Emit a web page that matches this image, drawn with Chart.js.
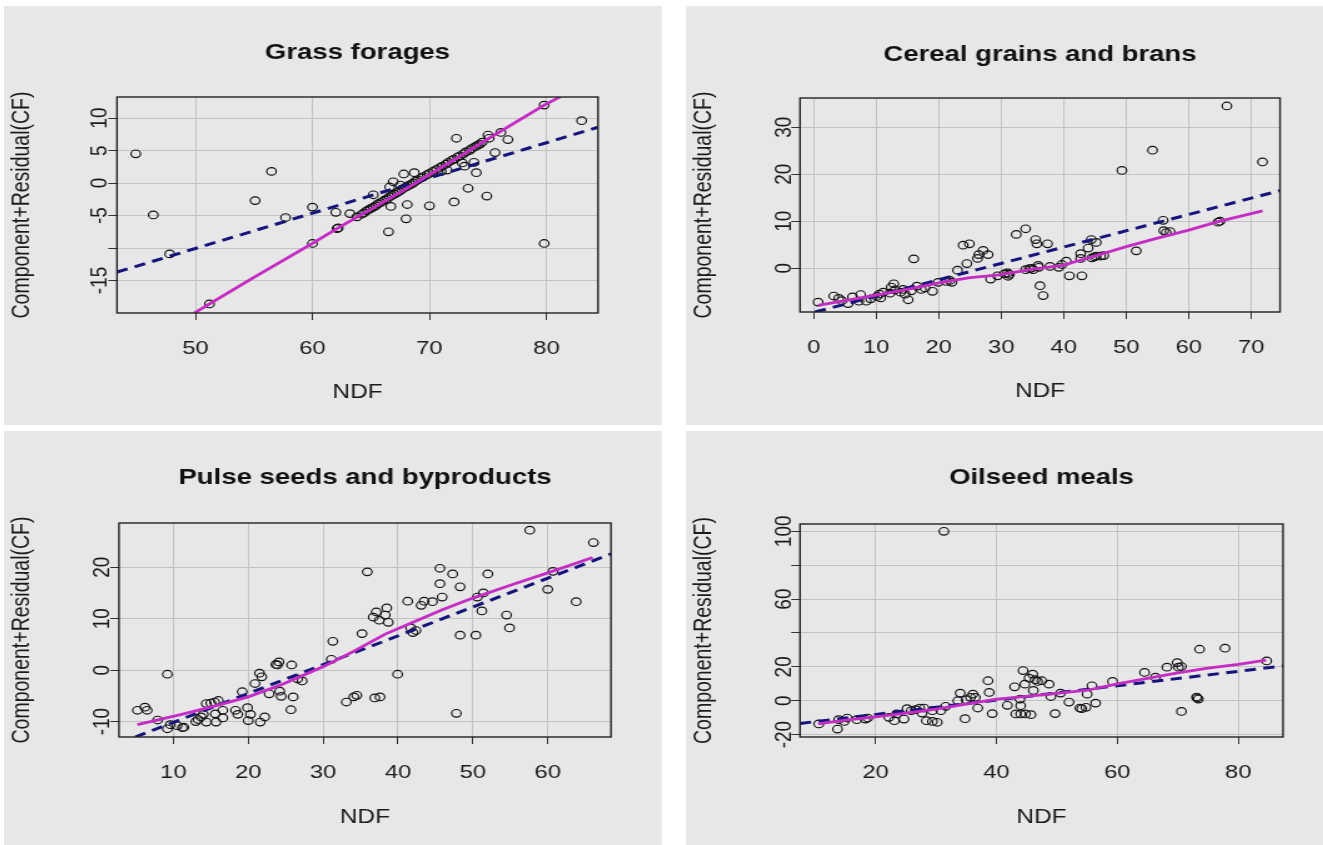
<!DOCTYPE html>
<html>
<head>
<meta charset="utf-8">
<script src="https://cdn.jsdelivr.net/npm/chart.js@4.4.1/dist/chart.umd.min.js"></script>
<style>
  body { margin: 0; width: 1323px; height: 845px; background: #fff; position: relative; overflow: hidden; }
  .panel { position: absolute; background: #e7e7e7; overflow: hidden; }
  .panel .inner { position: absolute; left: 0; top: 0; transform-origin: 0 0; }
</style>
</head>
<body>
<script>
// Grass forages
const grassNdf = [44.9,46.4,47.8,51.2,55.1,56.5,57.7,60.0,60.0,62.0, 62.1,63.2,66.5,66.7,66.6,66.9,67.8,68.1,68.0,68.7,
  70.0,72.1,72.3,72.8,73.3,73.8,74.0,74.9,75.0,75.6, 76.1,76.7,79.8,79.8,83.0,
  63.8,64.2,64.6,65.0,65.4,65.8,66.2,66.6,67.0,67.4, 67.8,68.2,68.6,69.0,69.5,70.0,70.6,71.1,71.6,72.1,
  72.6,73.1,73.6,74.1,74.5,75.1, 65.2,67.5,71.0,71.5,73.0,62.2,
  64.4,64.8,65.2,65.6,66.0,66.4,66.8,67.2,67.6,68.0, 68.4,68.8,69.3,69.8,70.3,70.9,71.4,71.9,72.4,72.9,
  73.4,73.9,74.3];
const grassCr = [4.5,-4.9,-10.9,-18.6,-2.7,1.8,-5.3,-3.7,-9.3,-4.5, -7.0,-4.7,-7.5,-3.6,-0.6,0.2,1.4,-3.3,-5.5,1.6,
  -3.5,-2.9,6.9,3.1,-0.8,3.2,1.6,-2.0,7.4,4.7, 7.8,6.7,-9.3,12.0,9.6,
  -5.2,-4.8,-4.3,-3.9,-3.5,-3.0,-2.6,-2.1,-1.7,-1.3, -0.8,-0.4,0.0,0.5,1.0,1.5,2.1,2.6,3.2,3.7,
  4.2,4.8,5.3,5.8,6.3,6.9, -1.8,-0.3,1.8,2.0,2.6,-6.9,
  -4.6,-4.1,-3.7,-3.2,-2.8,-2.4,-1.9,-1.5,-1.0,-0.6, -0.2,0.3,0.8,1.3,1.8,2.4,2.9,3.5,4.0,4.5,
  5.0,5.6,6.0];
const grassFitNdf = [43.3, 84.4];
const grassFitCr = [-13.7, 8.6];
const grassSmoothNdf = [49.9, 51.2, 55.0, 60.0, 62.2, 65.5, 68.0, 70.0, 72.5, 75.0, 79.8, 81.2];
const grassSmoothCr = [-20.0, -18.6, -14.5, -9.3, -6.9, -3.5, -0.9, 1.3, 4.0, 6.8, 12.0, 13.3];
const grassXTicks = [50, 60, 70, 80];
const grassYTicks = [-15, -10, -5, 0, 5, 10];
const grassYLabels = [-15, -5, 0, 5, 10];

// Cereal grains and brans
const cerealNdf = [0.7,3.2,4.0,4.5,5.5,6.2,7.5,7.2,8.4,9.1, 10.1,10.7,11.1,12.2,12.8,12.4,13.9,14.6,15.1,14.3,
  15.6,16.0,16.5,17.2,19.0,19.9,21.2,22.1,23.0,23.9, 24.9,24.5,26.2,26.4,27.1,27.9,28.3,29.4,31.1,31.0,
  31.3,32.4,33.9,33.9,34.5,35.5,35.7,35.1,35.9,36.2, 36.7,37.4,37.8,39.2,39.7,40.4,40.9,42.9,42.7,42.7,
  43.9,44.4,45.2,44.5,45.2,45.9,46.4,49.3,51.6,54.2, 55.9,56.0,57.0,64.7,66.1,71.8,
  10.5,13.0,17.8,21.8,30.5,34.8,36.0,44.9,65.0,56.4];
const cerealCr = [-7.2,-5.9,-6.4,-6.9,-7.5,-6.1,-5.6,-7.0,-7.0,-6.5, -6.0,-6.3,-5.1,-5.3,-3.3,-4.0,-5.1,-5.5,-6.7,-4.5,
  -4.8,2.0,-3.8,-4.5,-4.9,-3.0,-2.8,-3.0,-0.4,4.9, 5.2,1.0,2.1,2.9,3.8,2.9,-2.3,-1.6,-1.7,-1.0,
  -1.3,7.2,8.4,-0.3,-0.1,6.1,5.2,-0.3,0.6,-3.7, -5.8,5.2,0.4,0.2,0.8,1.5,-1.6,-1.6,3.1,2.1,
  4.3,6.1,5.5,2.2,2.6,2.6,2.7,20.8,3.7,25.1, 10.2,8.0,7.8,9.8,34.5,22.6,
  -5.5,-4.6,-4.2,-2.6,-1.2,0.0,0.2,2.4,10.0,7.6];
const cerealFitNdf = [0.2, 74.6];
const cerealFitCr = [-9.3, 16.5];
const cerealSmoothNdf = [0.7, 5, 10, 15, 20, 25, 29.7, 35, 39.8, 45, 50, 55, 60, 64.7, 71.8];
const cerealSmoothCr = [-7.9, -6.9, -5.7, -4.5, -3.1, -2.0, -1.4, -0.2, 0.6, 2.6, 4.6, 6.4, 8.1, 9.9, 12.2];
const cerealXTicks = [0, 10, 20, 30, 40, 50, 60, 70];
const cerealYTicks = [0, 10, 20, 30];
const cerealYLabels = [0, 10, 20, 30];

// Pulse seeds and byproducts
const pulseNdf = [5.2,6.2,6.5,7.9,9.2,9.2,9.6,10.5,11.2,11.4, 13.0,13.3,13.7,14.0,14.4,14.4,15.0,15.5,16.0,15.6,
  15.7,16.6,16.6,18.3,18.6,19.2,19.9,20.0,20.3,20.9, 21.5,21.8,21.6,22.2,22.8,23.7,24.1,23.9,24.2,24.4,
  25.8,26.0,25.7,26.6,27.2,31.3,31.1,33.1,34.1,34.5, 35.2,35.9,36.7,36.9,37.1,37.5,37.6,38.3,38.5,38.7,
  39.95,41.3,41.7,42.0,42.4,43.1,43.5,44.6,45.6,45.6, 45.9,47.3,47.8,48.3,48.3,50.4,50.6,51.2,51.4,52.0,
  54.5,54.9,57.6,60.0,60.7,63.8,66.1];
const pulseCr = [-7.8,-7.2,-7.8,-9.7,-0.8,-11.4,-10.6,-10.8,-11.2,-11.1, -10.0,-9.6,-9.1,-8.6,-10.1,-6.5,-6.4,-6.2,-5.9,-8.5,
  -10.1,-7.8,-9.3,-7.8,-8.6,-4.2,-7.3,-9.8,-8.6,-2.6, -0.6,-1.3,-10.1,-9.1,-4.6,1.1,1.6,1.0,-4.1,-5.1,
  1.0,-5.2,-7.7,-1.7,-2.1,5.6,2.1,-6.2,-5.2,-4.9, 7.1,19.1,10.3,-5.4,11.3,9.7,-5.2,10.7,12.1,9.3,
  -0.8,13.4,8.2,7.3,7.7,12.6,13.4,13.3,19.8,16.8, 14.2,18.7,-8.4,16.2,6.8,6.8,14.2,11.5,15.0,18.7,
  10.7,8.2,27.2,15.7,19.2,13.3,24.8];
const pulseFitNdf = [4.9, 68.45];
const pulseFitCr = [-13.0, 22.6];
const pulseSmoothNdf = [5.2, 11.1, 15.5, 20, 24.5, 30.2, 34, 38.3, 42, 46, 50, 55, 60, 66.0];
const pulseSmoothCr = [-10.6, -8.6, -7.0, -5.2, -2.8, 0.8, 3.6, 7.0, 9.3, 11.8, 14.0, 16.5, 18.9, 21.9];
const pulseXTicks = [10, 20, 30, 40, 50, 60];
const pulseYTicks = [-10, 0, 10, 20];
const pulseYLabels = [-10, 0, 10, 20];

// Oilseed meals
const oilNdf = [10.6,13.7,13.9,14.8,15.3,16.9,18.3,18.7,22.2,23.1, 23.5,24.7,25.2,25.9,26.6,27.3,28.0,27.7,28.4,29.4,
  30.2,29.4,30.8,31.3,31.6,33.6,34.0,34.8,35.0,35.7, 36.1,36.5,36.9,38.6,38.8,39.3,41.8,43.0,43.2,43.9,
  44.0,44.0,44.4,44.7,44.8,45.4,46.0,46.1,46.4,46.8, 47.5,45.7,48.7,49.0,49.7,50.6,52.0,53.8,54.1,55.0,
  54.8,55.8,56.4,59.2,64.5,66.3,68.2,69.9,70.1,70.6, 70.6,73.1,73.2,73.4,73.6,77.8,84.7];
const oilCr = [-13.7,-16.7,-11.2,-12.2,-10.2,-11.2,-10.8,-10.2,-9.8,-11.8, -7.8,-10.8,-4.7,-5.9,-5.3,-4.3,-4.3,-7.3,-11.8,-12.2,
  -12.7,-5.9,-5.9,100.0,-3.3,0.0,4.5,-10.6,0.6,2.0, 3.9,2.0,-4.3,11.8,4.9,-7.6,-2.7,8.2,-7.8,1.0,
  -2.9,-7.8,17.8,9.8,-7.8,13.3,15.7,6.1,12.4,11.4, 11.8,-8.2,9.8,2.5,-7.6,4.5,-0.8,-4.3,-4.7,3.9,
  -3.9,8.8,-1.4,11.4,16.7,13.9,19.8,22.5,19.8,20.2, -6.3,2.2,1.6,1.0,30.4,31.0,23.5];
const oilFitNdf = [7.5, 87.4];
const oilFitCr = [-13.4, 20.5];
const oilSmoothNdf = [10.5, 15, 20, 25, 30, 35, 40, 45, 50, 55, 60, 65, 70, 75, 80, 84.6];
const oilSmoothCr = [-13.7, -11.5, -9.5, -7.3, -5.0, -2.0, 1.0, 2.6, 4.3, 6.2, 10.0, 13.2, 16.4, 19.2, 21.5, 24.0];
const oilXTicks = [20, 40, 60, 80];
const oilYTicks = [-20, 0, 20, 40, 60, 80, 100];
const oilYLabels = [-20, 0, 20, 60, 100];

const FONT = '"Liberation Sans", Arial, sans-serif';
const INK = '#1a1a1a';
const GRID = '#c2c2c2';
const MAGENTA = '#c42cc4';
const NAVY = '#14147a';
const S = 1.25; // the reference picture is stretched sideways
const TICK_SIZE = 19;
const AXIS_SIZE = 19.5;

const panels = [
  { title: 'Grass forages', rect: [4, 6, 658, 419], box: [117, 97, 598, 313],
    titleY: 53, yTitleX: 22, yLabelX: 100, xLabelY: 349, ndfY: 393,
    xRange: [43.3, 84.4], yRange: [-20, 13.25],
    ndf: grassNdf, cr: grassCr, fitNdf: grassFitNdf, fitCr: grassFitCr,
    smNdf: grassSmoothNdf, smCr: grassSmoothCr, xTicks: grassXTicks, yTicks: grassYTicks, yLabels: grassYLabels },
  { title: 'Cereal grains and brans', rect: [686, 6, 637, 419], box: [800, 98, 1280, 312],
    titleY: 55, yTitleX: 704, yLabelX: 784, xLabelY: 348, ndfY: 392,
    xRange: [-2.2, 74.6], yRange: [-9.3, 36.2],
    ndf: cerealNdf, cr: cerealCr, fitNdf: cerealFitNdf, fitCr: cerealFitCr,
    smNdf: cerealSmoothNdf, smCr: cerealSmoothCr, xTicks: cerealXTicks, yTicks: cerealYTicks, yLabels: cerealYLabels },
  { title: 'Pulse seeds and byproducts', rect: [4, 431, 658, 414], box: [119, 523, 611, 737],
    titleY: 478, yTitleX: 22, yLabelX: 102, xLabelY: 773, ndfY: 818,
    xRange: [2.74, 68.45], yRange: [-13.0, 28.6],
    ndf: pulseNdf, cr: pulseCr, fitNdf: pulseFitNdf, fitCr: pulseFitCr,
    smNdf: pulseSmoothNdf, smCr: pulseSmoothCr, xTicks: pulseXTicks, yTicks: pulseYTicks, yLabels: pulseYLabels },
  { title: 'Oilseed meals', rect: [686, 431, 637, 414], box: [800, 524, 1283, 737],
    titleY: 478, yTitleX: 704, yLabelX: 784, xLabelY: 773, ndfY: 818,
    xRange: [7.5, 87.4], yRange: [-21.4, 104.3],
    ndf: oilNdf, cr: oilCr, fitNdf: oilFitNdf, fitCr: oilFitCr,
    smNdf: oilSmoothNdf, smCr: oilSmoothCr, xTicks: oilXTicks, yTicks: oilYTicks, yLabels: oilYLabels }
];

function pairs(xs, ys) {
  return xs.map((x, i) => ({ x: x, y: ys[i] }));
}

function drawPanel(p) {
  const [px, py, pw, ph] = p.rect;
  const [bl, bt, br, bb] = p.box;
  const cw = Math.round(pw / S);
  const k = pw / cw;

  const outer = document.createElement('div');
  outer.className = 'panel';
  outer.style.cssText = `left:${px}px;top:${py}px;width:${pw}px;height:${ph}px`;
  const inner = document.createElement('div');
  inner.className = 'inner';
  inner.style.cssText = `width:${cw}px;height:${ph}px;transform:scaleX(${k})`;
  const canvas = document.createElement('canvas');
  canvas.width = cw;
  canvas.height = ph;
  inner.appendChild(canvas);
  outer.appendChild(inner);
  document.body.appendChild(outer);

  // plot box in canvas pixels
  const boxL = (bl - px) / k, boxR = (br - px) / k;
  const boxT = bt - py, boxB = bb - py;
  const titleLH = 22 * 1.2, tickLH = TICK_SIZE * 1.2, axisLH = AXIS_SIZE * 1.2, tickLen = 7;
  const titleTop = (p.titleY - py) - titleLH / 2;
  const labelGap = (bl - p.yLabelX) / k;

  new Chart(canvas, {
    type: 'scatter',
    data: {
      datasets: [
        { data: pairs(p.smNdf, p.smCr), showLine: true, borderColor: MAGENTA, borderWidth: 2.8, pointRadius: 0 },
        { data: pairs(p.fitNdf, p.fitCr), showLine: true, borderColor: NAVY, borderWidth: 3, borderDash: [9, 6], pointRadius: 0 },
        { data: pairs(p.ndf, p.cr), pointStyle: 'circle', pointRadius: 3.8, borderWidth: 1.15,
          borderColor: '#111', backgroundColor: 'rgba(0,0,0,0)' }
      ]
    },
    options: {
      responsive: false,
      animation: false,
      events: [],
      layout: { padding: { left: 0, top: 0, bottom: 0, right: cw - boxR } },
      plugins: {
        legend: { display: false },
        tooltip: { enabled: false },
        title: {
          display: true, text: p.title, fullSize: false, color: '#111',
          font: { family: FONT, size: 22, weight: 'bold', lineHeight: 1.2 },
          padding: { top: titleTop, bottom: boxT - titleTop - titleLH }
        }
      },
      scales: {
        x: {
          type: 'linear', min: p.xRange[0], max: p.xRange[1],
          afterBuildTicks: s => { s.ticks = p.xTicks.map(v => ({ value: v })); },
          afterFit: s => { s.height = ph - boxB; },
          grid: { color: GRID, lineWidth: 1, tickColor: '#333', tickLength: tickLen },
          border: { display: false },
          ticks: { color: INK, font: { family: FONT, size: TICK_SIZE }, maxRotation: 0, autoSkip: false,
                   padding: (p.xLabelY - py) - boxB - tickLen - tickLH / 2, callback: v => String(v) },
          title: { display: true, text: 'NDF', color: INK, font: { family: FONT, size: AXIS_SIZE },
                   padding: { top: 0, bottom: ph - (p.ndfY - py) - axisLH / 2 } }
        },
        y: {
          type: 'linear', min: p.yRange[0], max: p.yRange[1],
          afterBuildTicks: s => { s.ticks = p.yTicks.map(v => ({ value: v })); },
          afterFit: s => { s.width = boxL; },
          grid: { color: GRID, lineWidth: 1, tickColor: '#333', tickLength: tickLen },
          border: { display: false },
          ticks: { display: false },
          title: { display: true, text: 'Component+Residual(CF)', color: INK, font: { family: FONT, size: AXIS_SIZE },
                   padding: { top: (p.yTitleX - px) / k - axisLH / 2, bottom: 0 } }
        }
      }
    },
    plugins: [{
      id: 'rBox',
      afterDraw(chart) {
        const { ctx, chartArea: a } = chart;
        const ys = chart.scales.y;
        ctx.save();
        ctx.strokeStyle = '#222';
        ctx.lineWidth = 1.4;
        ctx.strokeRect(a.left, a.top, a.right - a.left, a.bottom - a.top);
        // y tick labels run along the axis, as in base R
        ctx.fillStyle = INK;
        ctx.font = `${TICK_SIZE}px ${FONT}`;
        ctx.textAlign = 'center';
        ctx.textBaseline = 'middle';
        p.yLabels.forEach(v => {
          ctx.save();
          ctx.translate(a.left - labelGap, ys.getPixelForValue(v));
          ctx.rotate(-Math.PI / 2);
          ctx.fillText(String(v), 0, 0);
          ctx.restore();
        });
        ctx.restore();
      }
    }]
  });
}

panels.forEach(drawPanel);
</script>
</body>
</html>
